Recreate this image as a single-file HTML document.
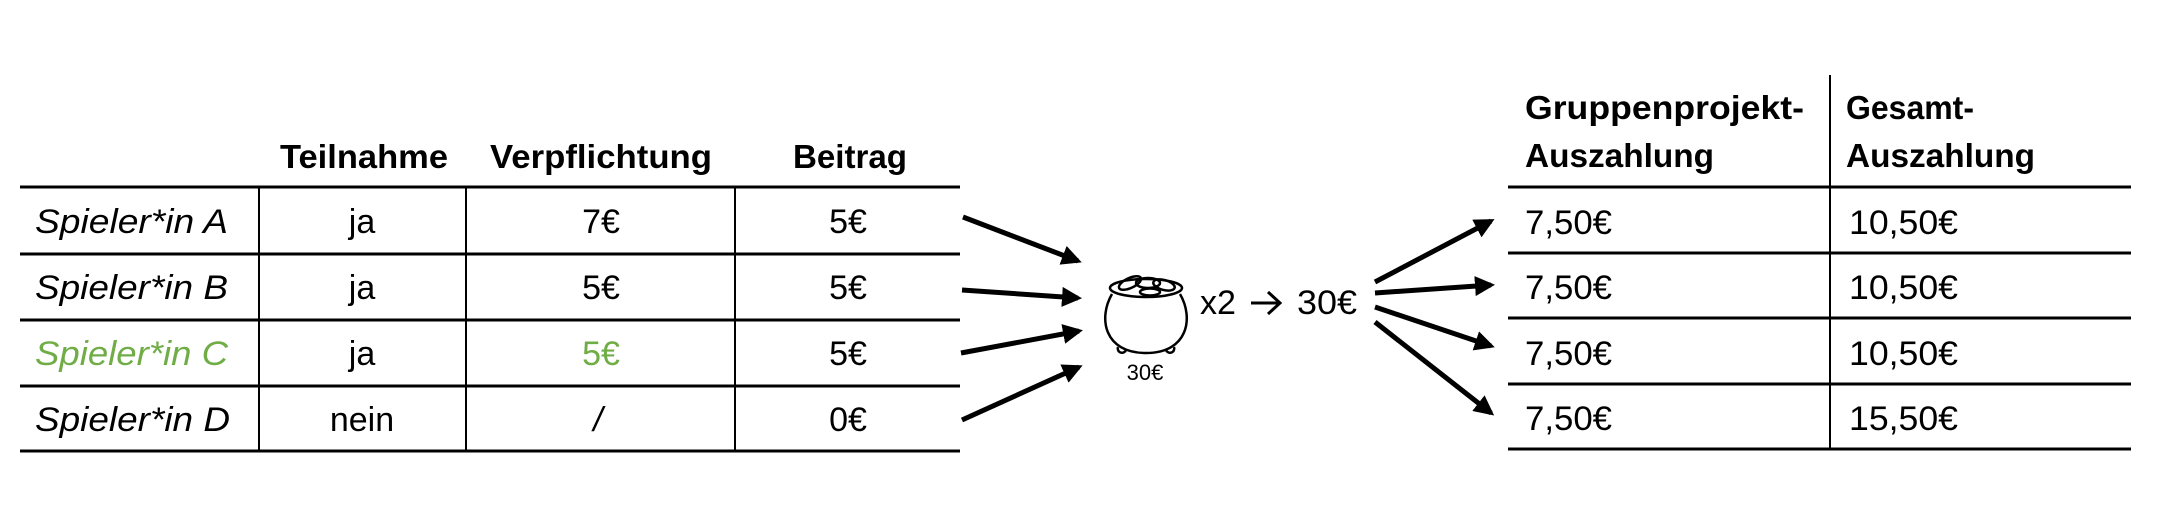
<!DOCTYPE html>
<html><head><meta charset="utf-8">
<style>
html,body{margin:0;padding:0;background:#fff;}
svg{display:block;}
text{font-family:"Liberation Sans",sans-serif;fill:#000;}
.b{font-weight:bold;font-size:33px;}
.c{font-size:34px;}
.i{font-style:italic;font-size:34px;}
.g{fill:#70ad47;}
</style></head>
<body>
<svg width="2160" height="508" viewBox="0 0 2160 508" xmlns="http://www.w3.org/2000/svg">
<defs>
<marker id="ah" markerWidth="4" markerHeight="4" refX="3.2" refY="2" orient="auto" markerUnits="strokeWidth">
<path d="M0,0 L4,2 L0,4 Z" fill="#000"/>
</marker>
</defs>

<g>
  <text class="b" x="364" y="168" text-anchor="middle" textLength="168" lengthAdjust="spacingAndGlyphs">Teilnahme</text>
  <text class="b" x="601" y="168" text-anchor="middle" textLength="222" lengthAdjust="spacingAndGlyphs">Verpflichtung</text>
  <text class="b" x="850" y="168" text-anchor="middle" textLength="114" lengthAdjust="spacingAndGlyphs">Beitrag</text>
  <g stroke="#000" stroke-width="3">
    <line x1="20" y1="187" x2="960" y2="187"/>
    <line x1="20" y1="254" x2="960" y2="254"/>
    <line x1="20" y1="320" x2="960" y2="320"/>
    <line x1="20" y1="386" x2="960" y2="386"/>
    <line x1="20" y1="451" x2="960" y2="451"/>
  </g>
  <g stroke="#000" stroke-width="2">
    <line x1="259" y1="187" x2="259" y2="451"/>
    <line x1="466" y1="187" x2="466" y2="451"/>
    <line x1="735" y1="187" x2="735" y2="451"/>
  </g>
  <g>
    <text class="i" x="35" y="233" textLength="193" lengthAdjust="spacingAndGlyphs">Spieler*in A</text>
    <text class="c" x="362" y="233" text-anchor="middle">ja</text>
    <text class="c" x="601" y="233" text-anchor="middle">7€</text>
    <text class="c" x="848" y="233" text-anchor="middle">5€</text>
  </g>
  <g>
    <text class="i" x="35" y="299" textLength="193" lengthAdjust="spacingAndGlyphs">Spieler*in B</text>
    <text class="c" x="362" y="299" text-anchor="middle">ja</text>
    <text class="c" x="601" y="299" text-anchor="middle">5€</text>
    <text class="c" x="848" y="299" text-anchor="middle">5€</text>
  </g>
  <g>
    <text class="i g" x="35" y="365" textLength="193" lengthAdjust="spacingAndGlyphs">Spieler*in C</text>
    <text class="c" x="362" y="365" text-anchor="middle">ja</text>
    <text class="c g" x="601" y="365" text-anchor="middle">5€</text>
    <text class="c" x="848" y="365" text-anchor="middle">5€</text>
  </g>
  <g>
    <text class="i" x="35" y="431" textLength="195" lengthAdjust="spacingAndGlyphs">Spieler*in D</text>
    <text class="c" x="362" y="431" text-anchor="middle">nein</text>
    <text class="c" x="598" y="431" text-anchor="middle" style="font-style:italic">/</text>
    <text class="c" x="848" y="431" text-anchor="middle">0€</text>
  </g>
</g>

<g stroke="#000" stroke-width="5" marker-end="url(#ah)">
  <line x1="963" y1="217" x2="1078" y2="261"/>
  <line x1="962" y1="290" x2="1078" y2="298"/>
  <line x1="961" y1="353" x2="1079" y2="331"/>
  <line x1="962" y1="420" x2="1079" y2="367"/>
</g>

<g fill="none" stroke="#000" stroke-width="2.5">
  <path d="M1112,294 C1098,318 1104,353 1146,353 C1188,353 1194,318 1180,294"/>
  <ellipse cx="1146" cy="288" rx="36" ry="9"/>
  <ellipse cx="1130" cy="283" rx="12" ry="5" transform="rotate(-25 1130 283)"/>
  <ellipse cx="1148" cy="283" rx="12" ry="5"/>
  <ellipse cx="1164" cy="285" rx="11" ry="5" transform="rotate(15 1164 285)"/>
  <ellipse cx="1150" cy="292" rx="10" ry="3.5"/>
  <path d="M1118,347 a4,4 0 1 0 8,3"/>
  <path d="M1166,350 a4,4 0 1 0 8,-3"/>
</g>
<text x="1145" y="380" text-anchor="middle" style="font-size:22px">30€</text>
<text x="1200" y="314" style="font-size:34px" textLength="36" lengthAdjust="spacingAndGlyphs">x2</text>
<g stroke="#000" stroke-width="3" fill="none">
  <line x1="1251" y1="303" x2="1279" y2="303"/>
  <polyline points="1268,292 1280,303 1268,314"/>
</g>
<text x="1297" y="314" style="font-size:34px" textLength="60" lengthAdjust="spacingAndGlyphs">30€</text>

<g stroke="#000" stroke-width="5" marker-end="url(#ah)">
  <line x1="1375" y1="282" x2="1491" y2="221"/>
  <line x1="1375" y1="293" x2="1491" y2="285"/>
  <line x1="1375" y1="307" x2="1491" y2="346"/>
  <line x1="1375" y1="322" x2="1491" y2="413"/>
</g>

<g>
  <text class="b" x="1525" y="119" textLength="279" lengthAdjust="spacingAndGlyphs">Gruppenprojekt-</text>
  <text class="b" x="1525" y="167" textLength="189" lengthAdjust="spacingAndGlyphs">Auszahlung</text>
  <text class="b" x="1846" y="119" textLength="128" lengthAdjust="spacingAndGlyphs">Gesamt-</text>
  <text class="b" x="1846" y="167" textLength="189" lengthAdjust="spacingAndGlyphs">Auszahlung</text>
  <g stroke="#000" stroke-width="3">
    <line x1="1508" y1="187" x2="2131" y2="187"/>
    <line x1="1508" y1="253" x2="2131" y2="253"/>
    <line x1="1508" y1="318" x2="2131" y2="318"/>
    <line x1="1508" y1="384" x2="2131" y2="384"/>
    <line x1="1508" y1="449" x2="2131" y2="449"/>
  </g>
  <line x1="1830" y1="75" x2="1830" y2="449" stroke="#000" stroke-width="2"/>
  <g>
    <text class="c" x="1525" y="234" textLength="87" lengthAdjust="spacingAndGlyphs">7,50€</text>
    <text class="c" x="1849" y="234" textLength="109" lengthAdjust="spacingAndGlyphs">10,50€</text>
    <text class="c" x="1525" y="299" textLength="87" lengthAdjust="spacingAndGlyphs">7,50€</text>
    <text class="c" x="1849" y="299" textLength="109" lengthAdjust="spacingAndGlyphs">10,50€</text>
    <text class="c" x="1525" y="365" textLength="87" lengthAdjust="spacingAndGlyphs">7,50€</text>
    <text class="c" x="1849" y="365" textLength="109" lengthAdjust="spacingAndGlyphs">10,50€</text>
    <text class="c" x="1525" y="430" textLength="87" lengthAdjust="spacingAndGlyphs">7,50€</text>
    <text class="c" x="1849" y="430" textLength="109" lengthAdjust="spacingAndGlyphs">15,50€</text>
  </g>
</g>
</svg>
</body></html>
